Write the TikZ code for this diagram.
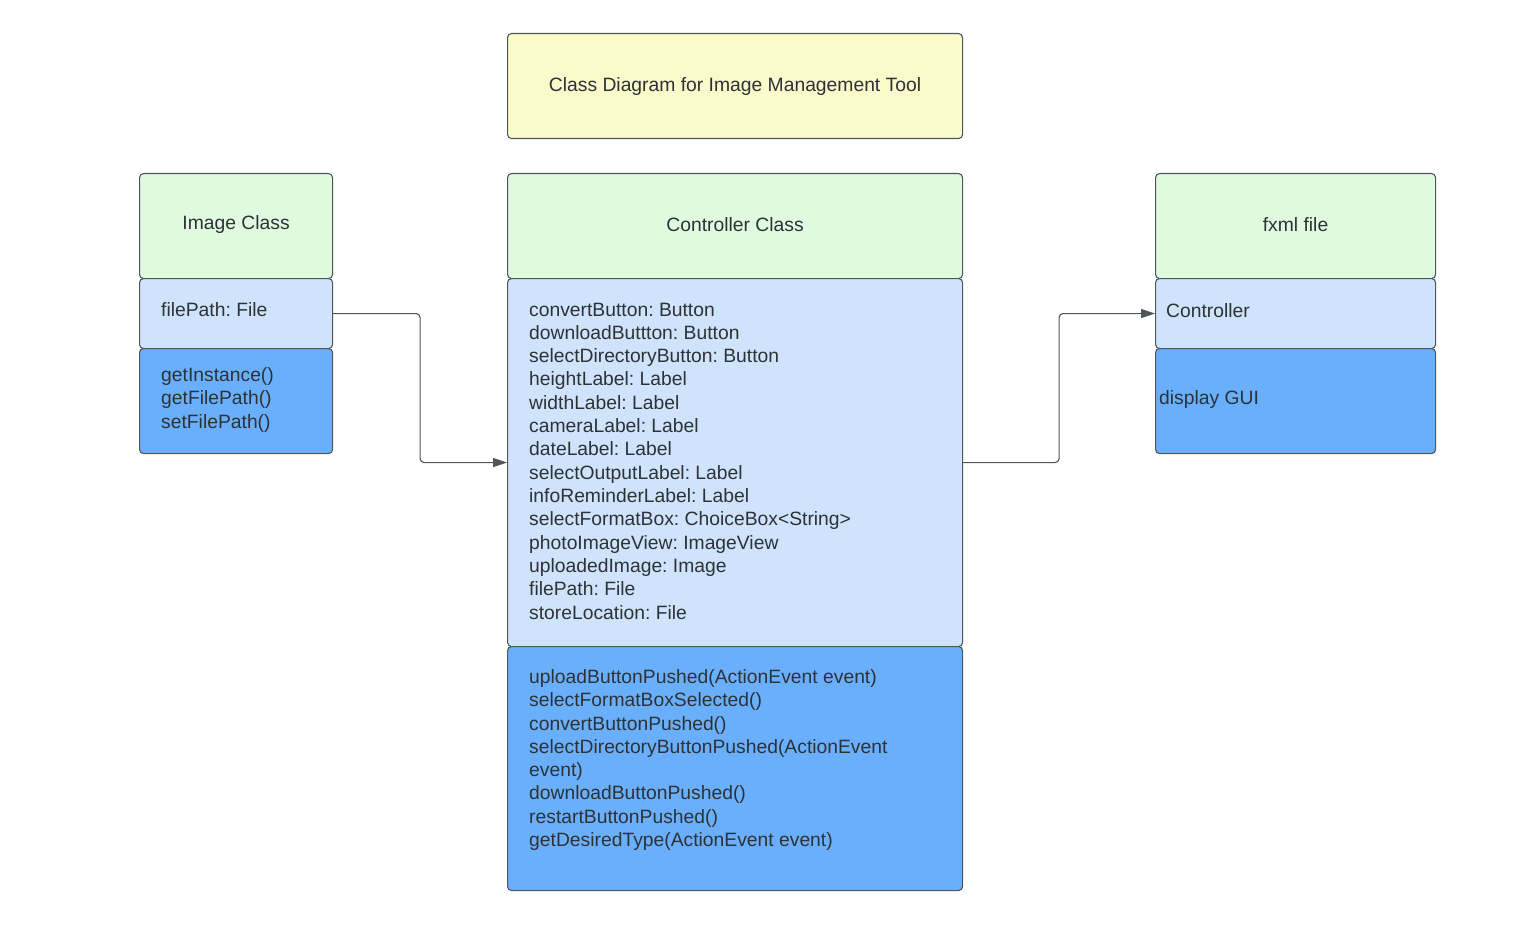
\documentclass[tikz,border=0pt]{standalone}
\usepackage{fontspec}
\setmainfont{Liberation Sans}
\usetikzlibrary{arrows.meta}
\frenchspacing
\definecolor{cyellow}{RGB}{250,250,202}
\definecolor{cgreen}{RGB}{224,250,224}
\definecolor{clight}{RGB}{207,228,252}
\definecolor{cblue}{RGB}{106,175,252}
\definecolor{cline}{RGB}{80,85,90}
\definecolor{ctext}{RGB}{45,50,55}
\tikzset{
  box/.style={draw=cline, line width=1.1pt, rounded corners=4pt, anchor=north west, inner sep=0pt},
  txt/.style={text=ctext, font=\fontsize{19.3}{23.3}\selectfont, inner sep=0pt},
  ltxt/.style={txt, align=left, anchor=west},
  conn/.style={draw=cline, line width=1.1pt, rounded corners=4pt, -{Triangle[length=14pt,width=9pt]}}
}
\begin{document}
\begin{tikzpicture}[x=1pt,y=-1pt]
\useasboundingbox (0,0) rectangle (1530,925);
% title
\node[box, fill=cyellow, minimum width=455pt, minimum height=105pt] (title) at (507,33) {};
\node[txt] (titleT) at (title.center) {Class Diagram for Image Management Tool};
% Image class
\node[box, fill=cgreen, minimum width=193pt, minimum height=105pt] (imgH) at (139,173) {};
\node[txt] (imgHT) at ([yshift=1.5pt]imgH.center) {Image Class};
\node[box, fill=clight, minimum width=193pt, minimum height=70pt] (imgA) at (139,278) {};
\node[ltxt] (imgAT) at (161,310) {filePath: File};
\node[box, fill=cblue, minimum width=193pt, minimum height=105pt] (imgM) at (139,348) {};
\node[ltxt] (imgMT) at (161,400) {getInstance()\\getFilePath()\\setFilePath()};
% Controller class
\node[box, fill=cgreen, minimum width=455pt, minimum height=105pt] (ctrlH) at (507,173) {};
\node[txt] (ctrlHT) at ([yshift=1.5pt]ctrlH.center) {Controller Class};
\node[box, fill=clight, minimum width=455pt, minimum height=368pt] (ctrlA) at (507,278) {};
\node[ltxt] (ctrlAT) at (529,461) {convertButton: Button\\downloadButtton: Button\\selectDirectoryButton: Button\\heightLabel: Label\\widthLabel: Label\\cameraLabel: Label\\dateLabel: Label\\selectOutputLabel: Label\\infoReminderLabel: Label\\selectFormatBox: ChoiceBox<String>\\photoImageView: ImageView\\uploadedImage: Image\\filePath: File\\storeLocation: File};
\node[box, fill=cblue, minimum width=455pt, minimum height=244pt] (ctrlM) at (507,646) {};
\node[ltxt] (ctrlMT) at (529,760) {uploadButtonPushed(ActionEvent event)\\selectFormatBoxSelected()\\convertButtonPushed()\\selectDirectoryButtonPushed(ActionEvent\\event)\\downloadButtonPushed()\\restartButtonPushed()\\getDesiredType(ActionEvent event)};
% fxml file
\node[box, fill=cgreen, minimum width=280pt, minimum height=105pt] (fxH) at (1155,173) {};
\node[txt] (fxHT) at ([yshift=1.5pt]fxH.center) {fxml file};
\node[box, fill=clight, minimum width=280pt, minimum height=70pt] (fxA) at (1155,278) {};
\node[ltxt] (fxAT) at (1166,311) {Controller};
\node[box, fill=cblue, minimum width=280pt, minimum height=105pt] (fxM) at (1155,348) {};
\node[ltxt] (fxMT) at (1159,400) {display GUI};
% connectors
\draw[conn] (imgA.east) -- ++(87,0) |- (ctrlA.west);
\draw[conn] (ctrlA.east) -- ++(96,0) |- (fxA.west);
\end{tikzpicture}
\end{document}
